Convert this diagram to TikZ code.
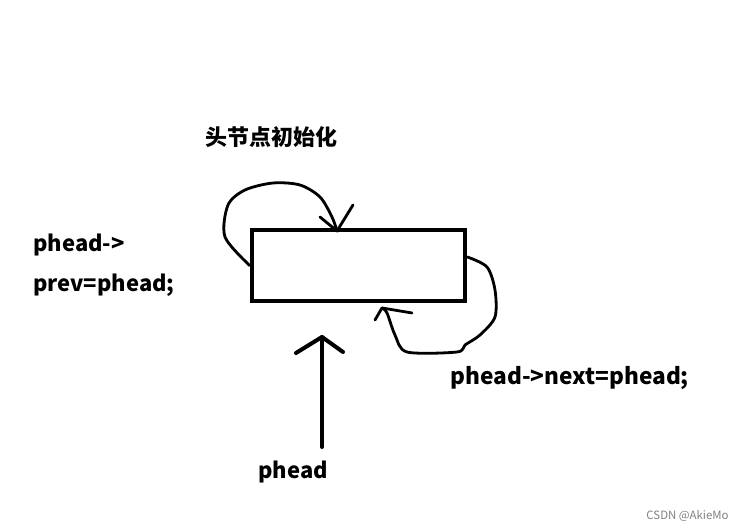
\documentclass[tikz,border=0pt]{standalone}
\usepackage{fontspec}
\setmainfont{Noto Sans CJK SC}
\tikzset{
  hand/.style={line width=1.6pt, line cap=round, line join=round},
  lbl/.style={font=\fontsize{12.5}{15}\selectfont\bfseries, anchor=west, inner sep=0pt},
}
\begin{document}
\begin{tikzpicture}

    \useasboundingbox (0,0) rectangle (14.88,10.6);

    % 头结点
    \node[draw, line width=2.6pt, minimum width=4.26cm, minimum height=1.42cm] (head) at (7.17,5.29) {};

    % 标签
    \node[lbl] (title) at (4.1,7.86) {头节点初始化};
    \node[lbl] (prevA) at (0.66,5.7) {phead->};
    \node[lbl] (prevB) at (0.66,4.9) {prev=phead;};
    \node[lbl, font=\fontsize{12.9}{15}\selectfont\bfseries] (nextlbl) at (9.0,3.04) {phead->next=phead;};
    \node[lbl] (ptr) at (5.16,1.16) {phead};
    \node[anchor=east, inner sep=0pt, font=\fontsize{6.5}{8}\selectfont, text=gray] (mark) at (14.58,0.28) {CSDN @AkieMo};

    % prev 指向自己
    \coordinate (topin) at (6.74,5.98);
    \draw[hand] plot[smooth] coordinates {(head.west) (4.5,5.86) (4.56,6.5) (4.9,6.8) (5.46,6.94) (6.0,6.9) (6.4,6.66) (6.64,6.26) (topin)};
    \draw[hand] (6.4,6.26) -- (topin) -- (7.06,6.5);

    % next 指向自己
    \coordinate (botin) at (7.64,4.44);
    \draw[hand] plot[smooth] coordinates {([yshift=0.17cm]head.east) (9.74,5.26) (9.9,4.8) (9.9,4.26) (9.6,3.9) (9.3,3.7) (9.14,3.56) (8.14,3.56) (7.9,3.9) (7.74,4.34) (botin)};
    \draw[hand] (7.5,4.2) -- (botin) -- (8.24,4.34);

    % phead 指针
    \coordinate (ptrtail) at (6.44,1.66);
    \coordinate (ptrtip) at (6.44,3.86);
    \draw[hand, line width=2.3pt] (ptrtail) -- (ptrtip);
    \draw[hand, line width=2.3pt] (5.92,3.54) -- (ptrtip) -- (6.86,3.56);

\end{tikzpicture}
\end{document}
